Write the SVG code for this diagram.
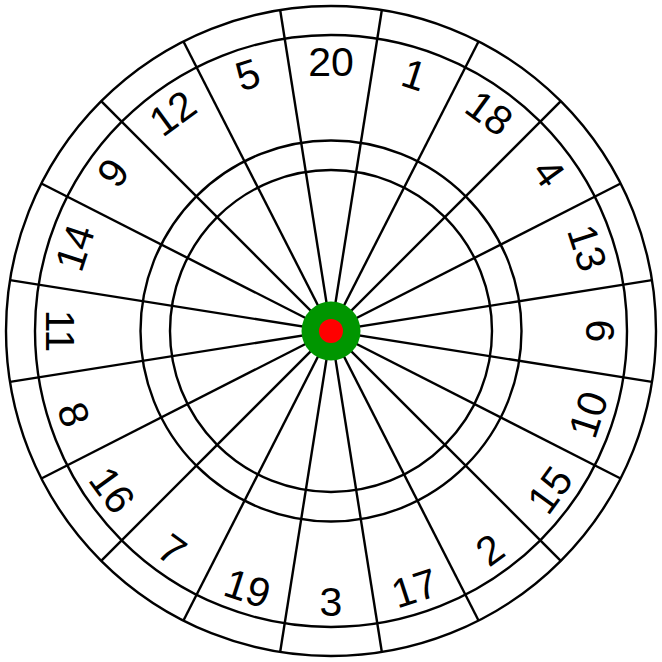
<svg xmlns="http://www.w3.org/2000/svg" width="662" height="662" viewBox="0 0 662 662">
<style>
.ring{fill:none;stroke:#000;stroke-width:2.4}
.ln{stroke:#000;stroke-width:2.4}
.num{font-family:"Liberation Sans",Arial,sans-serif;font-size:41px;text-anchor:middle;fill:#000}
</style>
<rect width="662" height="662" fill="#fff"/>
<g id="rings">
<circle class="ring" cx="331" cy="331" r="325"/>
<circle class="ring" cx="331" cy="331" r="296"/>
<circle class="ring" cx="331" cy="331" r="190.5"/>
<circle class="ring" cx="331" cy="331" r="161"/>
</g>
<g id="connectors">
<line class="ln" x1="331" y1="6" x2="331" y2="656" transform="rotate(9 331 331)"/>
<line class="ln" x1="331" y1="6" x2="331" y2="656" transform="rotate(27 331 331)"/>
<line class="ln" x1="331" y1="6" x2="331" y2="656" transform="rotate(45 331 331)"/>
<line class="ln" x1="331" y1="6" x2="331" y2="656" transform="rotate(63 331 331)"/>
<line class="ln" x1="331" y1="6" x2="331" y2="656" transform="rotate(81 331 331)"/>
<line class="ln" x1="331" y1="6" x2="331" y2="656" transform="rotate(99 331 331)"/>
<line class="ln" x1="331" y1="6" x2="331" y2="656" transform="rotate(117 331 331)"/>
<line class="ln" x1="331" y1="6" x2="331" y2="656" transform="rotate(135 331 331)"/>
<line class="ln" x1="331" y1="6" x2="331" y2="656" transform="rotate(153 331 331)"/>
<line class="ln" x1="331" y1="6" x2="331" y2="656" transform="rotate(171 331 331)"/>
</g>
<g id="bull">
<circle cx="331" cy="331" r="29.5" fill="#009600"/>
<circle cx="331" cy="331" r="12" fill="#ff0000"/>
</g>
<g id="numbers">
<g id="n20" transform="translate(331 61) rotate(0)"><text class="num" y="14.7">20</text></g>
<g id="n1" transform="translate(414.4 74.2) rotate(18)"><text class="num" y="14.7">1</text></g>
<g id="n18" transform="translate(489.7 112.6) rotate(36)"><text class="num" y="14.7">18</text></g>
<g id="n4" transform="translate(549.4 172.3) rotate(54)"><text class="num" y="14.7">4</text></g>
<g id="n13" transform="translate(587.8 247.6) rotate(72)"><text class="num" y="14.7">13</text></g>
<g id="n6" transform="translate(601 331) rotate(90)"><text class="num" y="14.7">6</text></g>
<g id="n10" transform="translate(587.8 414.4) rotate(-72)"><text class="num" y="14.7">10</text></g>
<g id="n15" transform="translate(549.4 489.7) rotate(-54)"><text class="num" y="14.7">15</text></g>
<g id="n2" transform="translate(489.7 549.4) rotate(-36)"><text class="num" y="14.7">2</text></g>
<g id="n17" transform="translate(414.4 587.8) rotate(-18)"><text class="num" y="14.7">17</text></g>
<g id="n3" transform="translate(331 601) rotate(0)"><text class="num" y="14.7">3</text></g>
<g id="n19" transform="translate(247.6 587.8) rotate(18)"><text class="num" y="14.7">19</text></g>
<g id="n7" transform="translate(172.3 549.4) rotate(36)"><text class="num" y="14.7">7</text></g>
<g id="n16" transform="translate(112.6 489.7) rotate(54)"><text class="num" y="14.7">16</text></g>
<g id="n8" transform="translate(74.2 414.4) rotate(72)"><text class="num" y="14.7">8</text></g>
<g id="n11" transform="translate(61 331) rotate(90)"><text class="num" y="14.7">11</text></g>
<g id="n14" transform="translate(74.2 247.6) rotate(-72)"><text class="num" y="14.7">14</text></g>
<g id="n9" transform="translate(112.6 172.3) rotate(-54)"><text class="num" y="14.7">9</text></g>
<g id="n12" transform="translate(172.3 112.6) rotate(-36)"><text class="num" y="14.7">12</text></g>
<g id="n5" transform="translate(247.6 74.2) rotate(-18)"><text class="num" y="14.7">5</text></g>
</g>
</svg>
